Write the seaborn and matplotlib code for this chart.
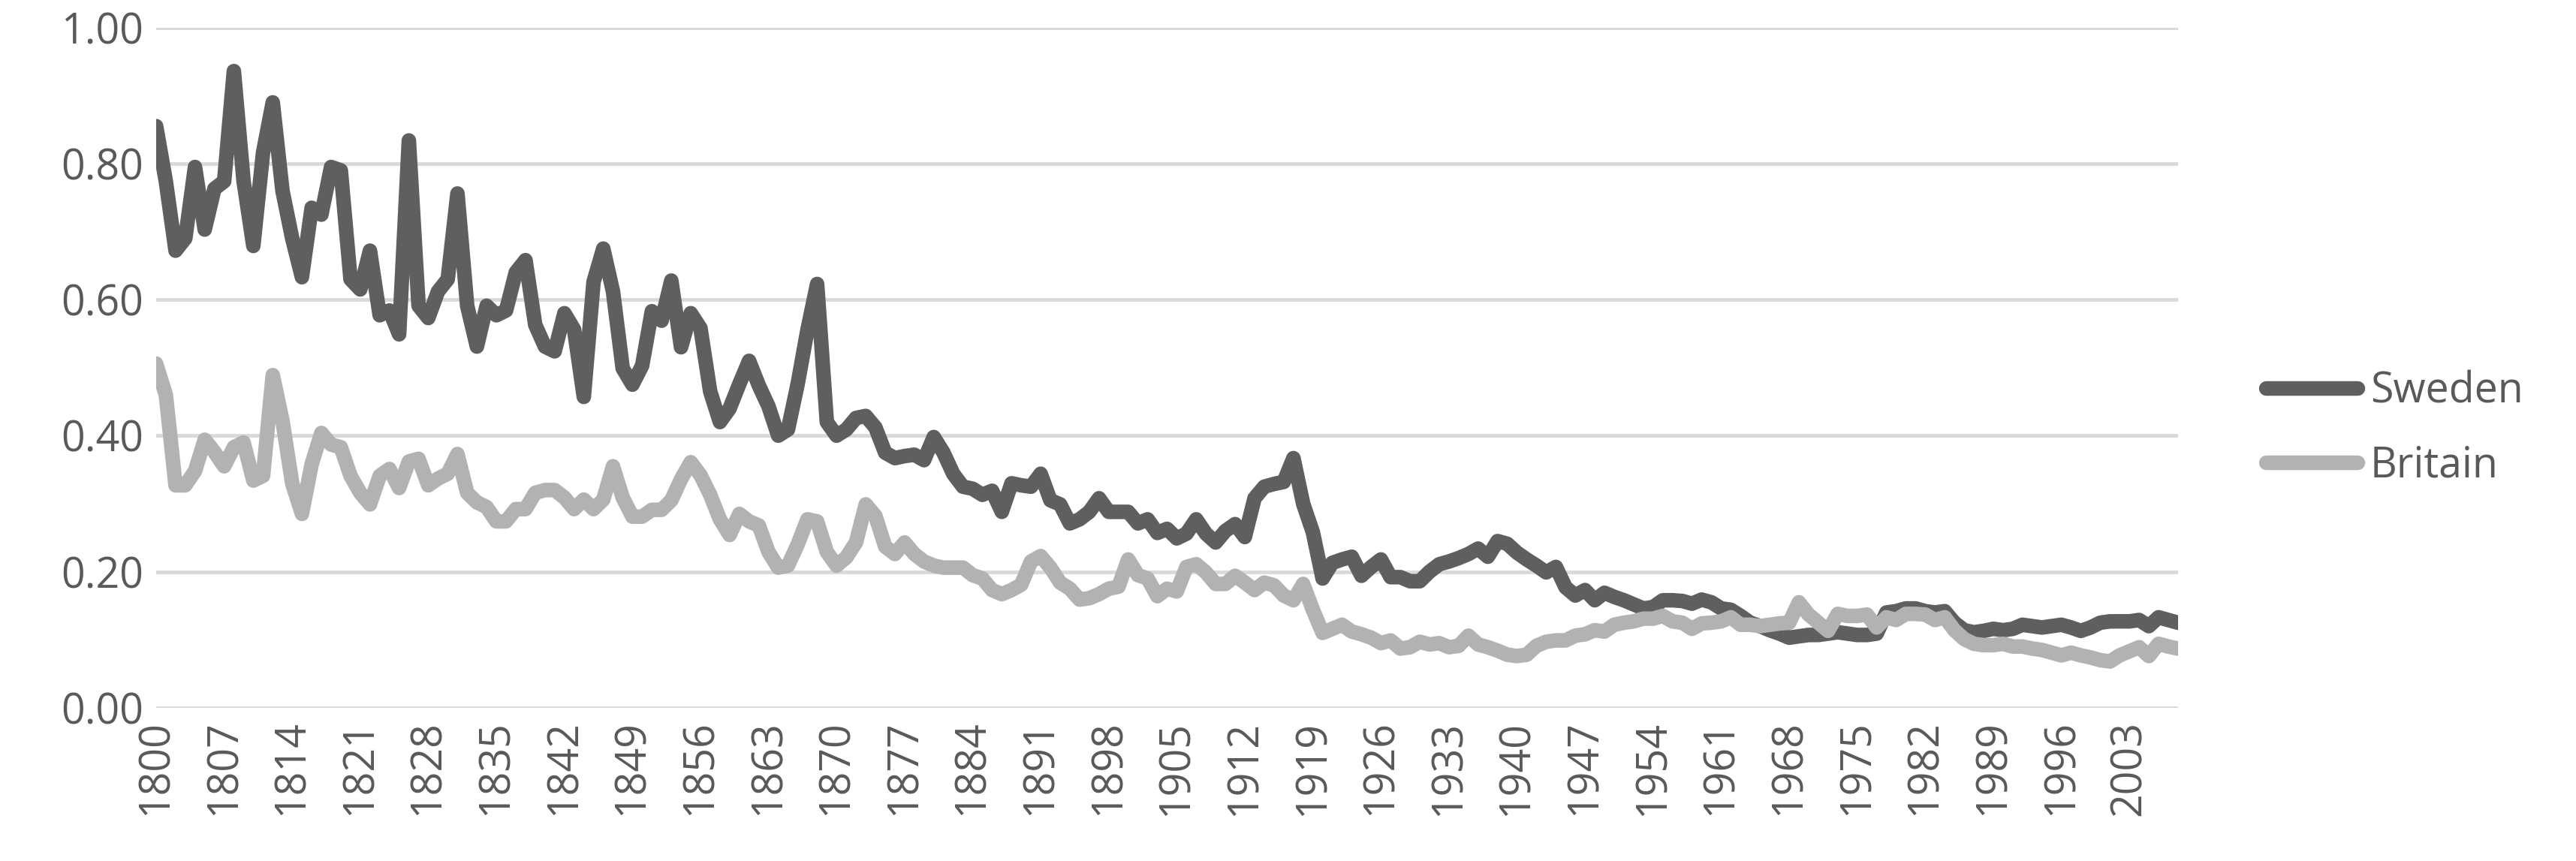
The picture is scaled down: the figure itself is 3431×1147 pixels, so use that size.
import numpy as np
import pandas as pd
import matplotlib
matplotlib.use("Agg")
import matplotlib.pyplot as plt
import seaborn as sns

years = list(range(1800, 2009))

sweden = [
    0.855,0.774,0.672,0.69,0.795,0.703,0.763,0.774,0.936,0.774,
    0.679,0.816,0.89,0.76,0.69,0.633,0.735,0.725,0.795,0.79,
    0.63,0.615,0.672,0.577,0.584,0.549,0.834,0.591,0.573,0.612,
    0.63,0.756,0.591,0.531,0.591,0.577,0.584,0.64,0.658,0.563,
    0.531,0.524,0.58,0.556,0.457,0.626,0.675,0.612,0.499,0.475,
    0.503,
    0.583,0.569,0.628,0.53,0.58,0.558,0.465,0.42,0.44,0.476,
    0.51,0.474,0.443,0.40,0.409,0.476,0.555,0.623,0.42,0.40,
    0.409,0.426,0.429,0.412,0.375,0.367,0.37,0.372,0.364,0.398,
    0.375,0.344,0.325,0.322,0.313,0.319,0.288,0.33,0.327,0.325,
    0.344,0.305,0.299,0.271,0.277,0.288,0.308,0.288,0.288,0.288,
    0.271,0.277,0.257,0.263,
    0.249,0.256,0.277,0.256,0.243,0.26,0.27,0.251,0.308,0.325,
    0.329,0.332,0.367,0.30,0.258,0.19,0.213,0.218,0.222,0.194,
    0.207,0.218,0.192,0.192,0.186,0.186,0.2,0.211,0.215,0.22,
    0.226,0.234,0.222,0.245,0.241,0.228,0.218,0.209,0.199,0.207,
    0.177,0.165,0.173,0.158,0.169,0.163,0.158,0.152,0.146,0.148,
    0.158,0.158,
    0.157,0.153,0.159,0.155,0.146,0.144,0.135,0.125,0.12,0.114,
    0.109,0.103,0.105,0.107,0.107,0.109,0.111,0.109,0.107,0.107,
    0.109,0.14,0.142,0.146,0.146,0.142,0.14,0.142,0.125,0.114,
    0.111,0.113,0.116,0.114,0.116,0.122,0.12,0.118,0.12,0.122,
    0.118,0.113,0.118,0.125,0.127,0.127,0.127,0.129,0.12,0.133,
    0.129,0.125,
]

britain = [
    0.506,0.46,0.327,0.327,0.348,0.394,0.376,0.355,0.383,0.39,
    0.334,0.341,0.489,0.422,0.33,0.285,0.358,0.404,0.387,0.383,
    0.341,0.316,0.299,0.341,0.351,0.323,0.362,0.366,0.327,0.337,
    0.344,0.373,0.316,0.302,0.295,0.274,0.274,0.292,0.292,0.316,
    0.32,0.32,0.309,0.292,0.306,0.292,0.306,0.355,0.309,0.281,
    0.281,
    0.291,0.291,0.305,0.336,0.361,0.342,0.313,0.277,0.254,0.285,
    0.274,0.268,0.229,0.206,0.209,0.24,0.277,0.274,0.229,0.209,
    0.221,0.243,0.299,0.282,0.237,0.226,0.243,0.226,0.215,0.209,
    0.206,0.206,0.206,0.195,0.19,0.173,0.167,0.173,0.181,0.215,
    0.223,0.206,0.184,0.175,0.159,0.161,0.167,0.175,0.178,0.218,
    0.195,0.19,0.164,0.175,
    0.171,0.207,0.211,0.199,0.182,0.182,0.194,0.184,0.173,0.184,
    0.18,0.165,0.158,0.182,0.144,0.11,0.116,0.122,0.112,0.108,
    0.103,0.095,0.099,0.087,0.089,0.097,0.093,0.095,0.089,0.091,
    0.106,0.093,0.089,0.084,0.078,0.076,0.078,0.091,0.097,0.099,
    0.099,0.106,0.108,0.114,0.112,0.122,0.125,0.127,0.131,0.131,
    0.135,0.127,
    0.125,0.116,0.124,0.125,0.127,0.133,0.122,0.122,0.12,0.122,
    0.124,0.125,0.155,0.137,0.125,0.113,0.138,0.135,0.135,0.137,
    0.118,0.133,0.129,0.138,0.138,0.137,0.129,0.133,0.114,0.101,
    0.094,0.092,0.092,0.094,0.09,0.09,0.087,0.085,0.081,0.077,
    0.081,0.077,0.074,0.07,0.068,0.077,0.083,0.089,0.076,0.094,
    0.09,0.087,
]

series_names = ["Sweden", "Britain"]
colors = ["#5f5f5f", "#b2b2b2"]

df = pd.concat([
    pd.DataFrame({"year": years, "value": sweden, "country": "Sweden"}),
    pd.DataFrame({"year": years, "value": britain, "country": "Britain"}),
])

sns.set_style("white")
plt.rcParams["font.family"] = ["Open Sans", "DejaVu Sans"]

fig = plt.figure(figsize=(34.31, 11.47), dpi=100)
ax = fig.add_axes([0.0606, 0.178, 0.7849, 0.79])

sns.lineplot(data=df, x="year", y="value", hue="country", hue_order=series_names,
             palette=colors, linewidth=14, ax=ax, solid_capstyle="round",
             solid_joinstyle="round")

ax.set_xlim(1800, 2008)
ax.set_ylim(0, 1.0)
ax.set_yticks(np.arange(0, 1.01, 0.2))
ax.set_yticklabels([f"{v:.2f}" for v in np.arange(0, 1.01, 0.2)])
ax.set_xticks(list(range(1800, 2009, 7)))
ax.set_xticklabels([str(y) for y in range(1800, 2009, 7)], rotation=90)
ax.tick_params(axis="both", labelsize=40, colors="#595959", length=0, pad=12)
ax.grid(axis="y", color="#d9d9d9", linewidth=3.5)
ax.set_axisbelow(True)
for s in ax.spines.values():
    s.set_visible(False)
ax.set_xlabel("")
ax.set_ylabel("")

leg = ax.legend(loc="center left", bbox_to_anchor=(1.025, 0.41), frameon=False,
                fontsize=40, handlelength=2.2, labelspacing=0.75, handletextpad=0.3)
for t in leg.get_texts():
    t.set_color("#595959")
for h in leg.get_lines():
    h.set_linewidth(14)

fig.savefig("out.png", dpi=100)
